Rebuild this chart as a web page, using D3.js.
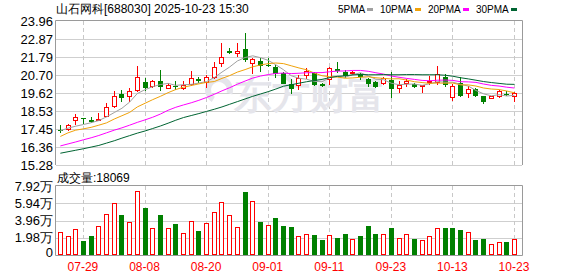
<!DOCTYPE html>
<html>
<head>
<meta charset="utf-8">
<script src="https://cdn.jsdelivr.net/npm/d3@7/dist/d3.min.js"></script>
<style>
  body { margin: 0; background: #fff; }
  svg { display: block; }
  text { font-family: "Liberation Sans", Arial, sans-serif; }
</style>
</head>
<body>
<svg id="chart" width="578" height="276"></svg>
<script>
(function() {

    // ---- data ----
    var title = "山石网科[688030] 2025-10-23 15:30";
    var dates = ["07-24", "07-25", "07-28", "07-29", "07-30", "07-31", "08-01", "08-04", "08-05", "08-06",
        "08-07", "08-08", "08-11", "08-12", "08-13", "08-14", "08-15", "08-18", "08-19", "08-20",
        "08-21", "08-22", "08-25", "08-26", "08-27", "08-28", "08-29", "09-01", "09-02", "09-03",
        "09-04", "09-05", "09-08", "09-09", "09-10", "09-11", "09-12", "09-15", "09-16", "09-17",
        "09-18", "09-19", "09-22", "09-23", "09-24", "09-25", "09-26", "09-29", "09-30", "10-09",
        "10-10", "10-13", "10-14", "10-15", "10-16", "10-17", "10-20", "10-21", "10-22", "10-23"];
    var opens = [17.38, 17.39, 17.95, 18.11, 17.97, 17.93, 18.19, 18.80, 19.54, 19.36,
        19.76, 20.30, 19.96, 20.36, 19.84, 20.06, 19.84, 20.10, 20.45, 20.20,
        20.50, 21.34, 22.15, 21.97, 22.27, 21.35, 21.55, 21.31, 21.17, 20.81,
        20.18, 20.04, 20.64, 20.81, 20.14, 20.40, 21.07, 20.90, 20.77, 20.77,
        20.45, 20.30, 20.16, 20.42, 19.84, 20.16, 20.14, 20.00, 20.20, 20.20,
        20.60, 19.34, 20.24, 19.54, 19.84, 19.44, 19.28, 19.40, 19.56, 19.40];
    var highs = [17.68, 17.75, 18.35, 18.12, 18.19, 18.43, 19.00, 19.74, 19.80, 19.94,
        21.25, 20.50, 20.40, 21.00, 20.24, 20.36, 20.34, 20.95, 20.60, 20.70,
        21.51, 22.63, 22.35, 22.62, 23.26, 21.75, 21.75, 21.71, 21.31, 20.90,
        20.45, 20.70, 21.11, 20.90, 20.25, 21.17, 21.51, 21.00, 20.95, 20.85,
        20.55, 20.35, 20.60, 20.90, 20.35, 20.45, 20.20, 20.10, 20.65, 21.25,
        20.77, 20.16, 20.60, 20.04, 19.90, 19.46, 19.46, 19.82, 19.74, 19.70];
    var lows = [17.23, 17.33, 17.69, 17.75, 17.79, 17.93, 18.15, 18.70, 19.10, 19.10,
        19.70, 19.75, 19.92, 19.76, 19.84, 19.80, 19.80, 20.04, 20.24, 19.90,
        20.45, 21.19, 21.95, 21.81, 21.51, 20.75, 20.90, 21.21, 20.51, 20.16,
        19.55, 19.80, 20.45, 20.04, 19.98, 20.10, 20.81, 20.50, 20.70, 20.40,
        19.96, 19.90, 20.10, 19.30, 19.60, 19.96, 19.92, 19.60, 20.10, 20.10,
        20.00, 19.16, 19.36, 19.30, 19.40, 18.98, 19.26, 19.34, 19.44, 19.10];
    var closes = [17.35, 17.71, 18.15, 18.03, 17.90, 18.03, 18.79, 19.46, 19.34, 19.74,
        20.60, 19.94, 20.36, 20.00, 20.10, 20.00, 20.12, 20.50, 20.36, 20.58,
        21.17, 21.79, 22.05, 22.15, 21.62, 21.67, 21.25, 21.27, 20.77, 20.16,
        19.86, 20.51, 20.96, 20.10, 20.05, 21.11, 20.96, 20.64, 20.90, 20.57,
        20.16, 19.96, 20.51, 19.85, 20.10, 20.34, 20.00, 20.10, 20.36, 20.77,
        20.10, 20.04, 19.44, 19.84, 19.44, 19.10, 19.44, 19.76, 19.47, 19.64];
    var prevClose = 17.30;
    // volume in 万
    var volumes = [2.64, 2.14, 2.95, 1.61, 2.18, 3.33, 4.71, 5.93, 4.59, 3.75,
        7.31, 5.39, 3.06, 4.59, 3.06, 3.56, 2.53, 3.86, 2.75, 3.63,
        4.97, 6.05, 4.55, 3.18, 7.23, 6.16, 3.79, 3.41, 4.21, 3.33,
        3.21, 2.14, 2.37, 2.30, 1.72, 2.26, 1.95, 2.41, 1.80, 2.18,
        3.33, 2.41, 2.37, 3.10, 1.91, 2.37, 1.84, 1.68, 2.14, 3.06,
        3.10, 3.10, 2.87, 2.64, 1.72, 1.84, 1.26, 1.49, 1.49, 1.8069];
    var ma5 = [17.35, 17.50, 17.62, 17.72, 17.83, 17.96, 18.18, 18.44, 18.70, 19.07,
        19.59, 19.82, 20.00, 20.13, 20.20, 20.08, 20.12, 20.14, 20.22, 20.31,
        20.55, 20.88, 21.19, 21.55, 21.76, 21.86, 21.75, 21.59, 21.32, 21.02,
        20.66, 20.51, 20.45, 20.32, 20.30, 20.55, 20.64, 20.57, 20.73, 20.84,
        20.65, 20.45, 20.42, 20.21, 20.12, 20.15, 20.16, 20.08, 20.18, 20.31,
        20.27, 20.27, 20.14, 20.04, 19.77, 19.57, 19.45, 19.52, 19.44, 19.48];
    var ma10 = [17.00, 17.22, 17.38, 17.46, 17.55, 17.68, 17.82, 18.05, 18.25, 18.45,
        18.78, 19.00, 19.22, 19.42, 19.64, 19.83, 19.97, 20.07, 20.17, 20.26,
        20.31, 20.50, 20.67, 20.88, 21.03, 21.20, 21.31, 21.39, 21.43, 21.39,
        21.26, 21.13, 21.02, 20.82, 20.66, 20.60, 20.58, 20.51, 20.53, 20.57,
        20.60, 20.54, 20.50, 20.47, 20.48, 20.40, 20.30, 20.25, 20.20, 20.22,
        20.21, 20.22, 20.11, 20.11, 20.04, 19.92, 19.86, 19.83, 19.74, 19.63];
    var ma20 = [16.43, 16.55, 16.67, 16.80, 16.92, 17.06, 17.22, 17.38, 17.52, 17.68,
        17.85, 18.00, 18.16, 18.35, 18.58, 18.76, 18.90, 19.03, 19.18, 19.35,
        19.54, 19.75, 19.94, 20.15, 20.34, 20.52, 20.64, 20.73, 20.80, 20.82,
        20.79, 20.81, 20.84, 20.85, 20.85, 20.90, 20.94, 20.95, 20.98, 20.98,
        20.93, 20.84, 20.76, 20.64, 20.57, 20.50, 20.44, 20.38, 20.36, 20.39,
        20.40, 20.38, 20.30, 20.29, 20.26, 20.16, 20.08, 20.04, 19.97, 19.92];
    var ma30 = [15.99, 16.08, 16.17, 16.26, 16.36, 16.46, 16.60, 16.74, 16.90, 17.05,
        17.20, 17.33, 17.48, 17.63, 17.80, 17.98, 18.14, 18.26, 18.38, 18.51,
        18.64, 18.78, 18.94, 19.10, 19.26, 19.42, 19.56, 19.70, 19.86, 20.03,
        20.12, 20.21, 20.30, 20.37, 20.44, 20.55, 20.62, 20.66, 20.71, 20.74,
        20.72, 20.72, 20.73, 20.72, 20.72, 20.73, 20.73, 20.72, 20.72, 20.72,
        20.69, 20.63, 20.54, 20.47, 20.39, 20.31, 20.25, 20.20, 20.15, 20.14];
    var priceTicks = [15.28, 16.36, 17.45, 18.53, 19.62, 20.70, 21.79, 22.87, 23.96];
    var volTicks = [0, 1.98, 3.96, 5.94, 7.92];
    var dateTicks = ["07-29", "08-08", "08-20", "09-01", "09-11", "09-23", "10-13", "10-23"];
    var maNames = ["5PMA", "10PMA", "20PMA", "30PMA"];

    var upColor = "#ff0000",
        downColor = "#008000",
        maColors = ["#a0a0a0", "#f0a20a", "#ff00ff", "#006432"];

    var svg = d3.select("#chart"),
        left = 56,
        right = 522,
        priceTop = 21,
        priceBottom = 165,
        volTop = 186,
        volBottom = 255;

    var x = d3.scaleBand().domain(dates).range([left, 517.8]);
    var y = d3.scaleLinear().domain([15.28, 23.96]).range([priceBottom, priceTop]);
    var vy = d3.scaleLinear().domain([0, 7.92]).range([volBottom, volTop]);

    function cx(d) {
        return Math.round(x(d) + x.bandwidth() / 2);
    }

    function crisp(v) {
        return Math.round(v) + 0.5;
    }

    var data = dates.map(function(d, i) {
        return {
            date: d,
            o: opens[i],
            h: highs[i],
            l: lows[i],
            c: closes[i],
            v: volumes[i],
            pc: i ? closes[i - 1] : prevClose
        };
    });

    // ---- grid ----
    var grid = svg.append("g").attr("class", "grid");

    grid.selectAll(".hp").data(priceTicks.slice(0, -1))
        .enter().append("line")
        .attr("x1", left).attr("x2", right)
        .attr("y1", function(d) { return crisp(y(d)); })
        .attr("y2", function(d) { return crisp(y(d)); })
        .attr("stroke", "#cfcfcf");

    grid.selectAll(".hv").data(volTicks.slice(1, -1))
        .enter().append("line")
        .attr("x1", left).attr("x2", right)
        .attr("y1", function(d) { return crisp(vy(d)); })
        .attr("y2", function(d) { return crisp(vy(d)); })
        .attr("stroke", "#cfcfcf");

    [[priceTop, priceBottom], [volTop, volBottom]].forEach(function(r) {
        grid.selectAll(null).data(dateTicks)
            .enter().append("line")
            .attr("x1", function(d) { return cx(d) + 0.5; })
            .attr("x2", function(d) { return cx(d) + 0.5; })
            .attr("y1", r[0]).attr("y2", r[1])
            .attr("stroke", "#c8c8c8")
            .attr("stroke-dasharray", "4,3");
    });

    // ---- watermark ----
    var wm = svg.append("g").attr("fill", "#e5e5eb");
    wm.append("text")
        .attr("x", 234).attr("y", 108)
        .attr("font-family", "Noto Sans CJK SC")
        .attr("font-size", 38)
        .attr("font-weight", "bold")
        .text("东方财富");
    wm.append("path")
        .attr("transform", "translate(219,90)")
        .attr("d", d3.arc().innerRadius(8).outerRadius(14).startAngle(-2.6).endAngle(1.9)());

    // ---- frames ----
    var frame = svg.append("g").attr("fill", "none").attr("stroke", "#9a9a9a");
    frame.append("path")
        .attr("d", "M" + (left - 0.5) + "," + priceBottom + "V" + (priceTop - 0.5) + "H" + (right + 0.5) + "V" + priceBottom);
    frame.append("line")
        .attr("x1", left).attr("x2", right)
        .attr("y1", priceBottom + 0.5).attr("y2", priceBottom + 0.5)
        .attr("stroke", "#cfcfcf");
    frame.append("path")
        .attr("d", "M" + (left - 0.5) + "," + (volBottom + 0.5) + "V" + (volTop - 0.5) + "H" + (right + 0.5) + "V" + (volBottom + 0.5) + "Z");

    // ---- candles ----
    var candle = svg.append("g").selectAll(".candle")
        .data(data)
        .enter().append("g")
        .attr("class", "candle");

    candle.append("line")
        .attr("x1", function(d) { return cx(d.date) + 0.5; })
        .attr("x2", function(d) { return cx(d.date) + 0.5; })
        .attr("y1", function(d) { return Math.round(y(d.h)); })
        .attr("y2", function(d) { return Math.round(y(d.l)); })
        .attr("stroke", function(d) { return d.c >= d.o ? upColor : downColor; });

    candle.append("rect")
        .each(function(d) {
            var top = Math.round(y(Math.max(d.o, d.c))),
                bot = Math.round(y(Math.min(d.o, d.c))),
                r = d3.select(this);
            if (d.c >= d.o) {
                r.attr("x", cx(d.date) - 1.5).attr("y", top + 0.5)
                    .attr("width", 4).attr("height", Math.max(bot - top - 1, 0))
                    .attr("fill", "#fff").attr("stroke", upColor);
            } else {
                r.attr("x", cx(d.date) - 2).attr("y", top)
                    .attr("width", 5).attr("height", Math.max(bot - top, 1))
                    .attr("fill", downColor);
            }
        });

    // ---- moving averages ----
    [ma5, ma10, ma20, ma30].forEach(function(series, k) {
        var line = d3.line()
            .x(function(d, i) { return x(dates[i]) + x.bandwidth() / 2 + 0.5; })
            .y(function(d) { return y(d); });
        svg.append("path")
            .attr("d", line(series))
            .attr("fill", "none")
            .attr("stroke", maColors[k])
            .attr("stroke-width", 1);
    });

    // ---- volume ----
    svg.append("g").selectAll(".vol")
        .data(data)
        .enter().append("rect")
        .attr("class", "vol")
        .each(function(d) {
            var top = Math.round(vy(d.v)),
                r = d3.select(this);
            if (d.c >= d.pc) {
                r.attr("x", cx(d.date) - 1.5).attr("y", top + 0.5)
                    .attr("width", 4).attr("height", volBottom - top - 1)
                    .attr("fill", "#fff").attr("stroke", upColor);
            } else {
                r.attr("x", cx(d.date) - 2).attr("y", top)
                    .attr("width", 5).attr("height", volBottom - top)
                    .attr("fill", downColor);
            }
        });

    // ---- axes ----
    var priceAxis = svg.append("g")
        .attr("transform", "translate(53,0)")
        .call(d3.axisLeft(y).tickValues(priceTicks).tickSize(0).tickPadding(0)
            .tickFormat(d3.format(".2f")));
    var volAxis = svg.append("g")
        .attr("transform", "translate(53,0)")
        .call(d3.axisLeft(vy).tickValues(volTicks).tickSize(0).tickPadding(0)
            .tickFormat(function(d) { return d ? d3.format(".2f")(d) + "万" : "0"; }));
    [priceAxis, volAxis].forEach(function(a) {
        a.select(".domain").remove();
        a.selectAll("text")
            .attr("font-family", "Liberation Sans, Noto Sans CJK SC")
            .attr("font-size", 13)
            .attr("fill", "#000");
    });
    volAxis.selectAll(".tick").filter(function(d) { return d === 0; })
        .select("text").attr("dy", "0.1em");

    var dateAxis = svg.append("g")
        .attr("transform", "translate(0,259)")
        .call(d3.axisBottom(x).tickValues(dateTicks).tickSize(0).tickPadding(3));
    dateAxis.select(".domain").remove();
    dateAxis.selectAll("text")
        .attr("font-family", "Liberation Sans")
        .attr("font-size", 12)
        .attr("fill", upColor);

    // ---- titles and legend ----
    svg.append("text")
        .attr("x", 56).attr("y", 13)
        .attr("font-family", "Noto Sans CJK SC")
        .attr("font-size", 12)
        .attr("fill", "#000")
        .text(title);

    svg.append("text")
        .attr("x", 57).attr("y", 181.5)
        .attr("font-family", "Noto Sans CJK SC")
        .attr("font-size", 12)
        .attr("fill", "#000")
        .text("成交量:" + Math.round(volumes[volumes.length - 1] * 10000));

    var legend = svg.append("g");
    var lx = 338;
    maNames.forEach(function(name, k) {
        var t = legend.append("text")
            .attr("x", lx).attr("y", 12.5)
            .attr("font-family", "Liberation Serif")
            .attr("font-size", 10)
            .attr("fill", "#000")
            .text(name);
        var w = t.node().getComputedTextLength();
        legend.append("rect")
            .attr("x", Math.round(lx + w + 2)).attr("y", 8)
            .attr("width", 6).attr("height", 3)
            .attr("fill", maColors[k]);
        lx = Math.round(lx + w + 2) + 6 + 7;
    });

})();
</script>
</body>
</html>
